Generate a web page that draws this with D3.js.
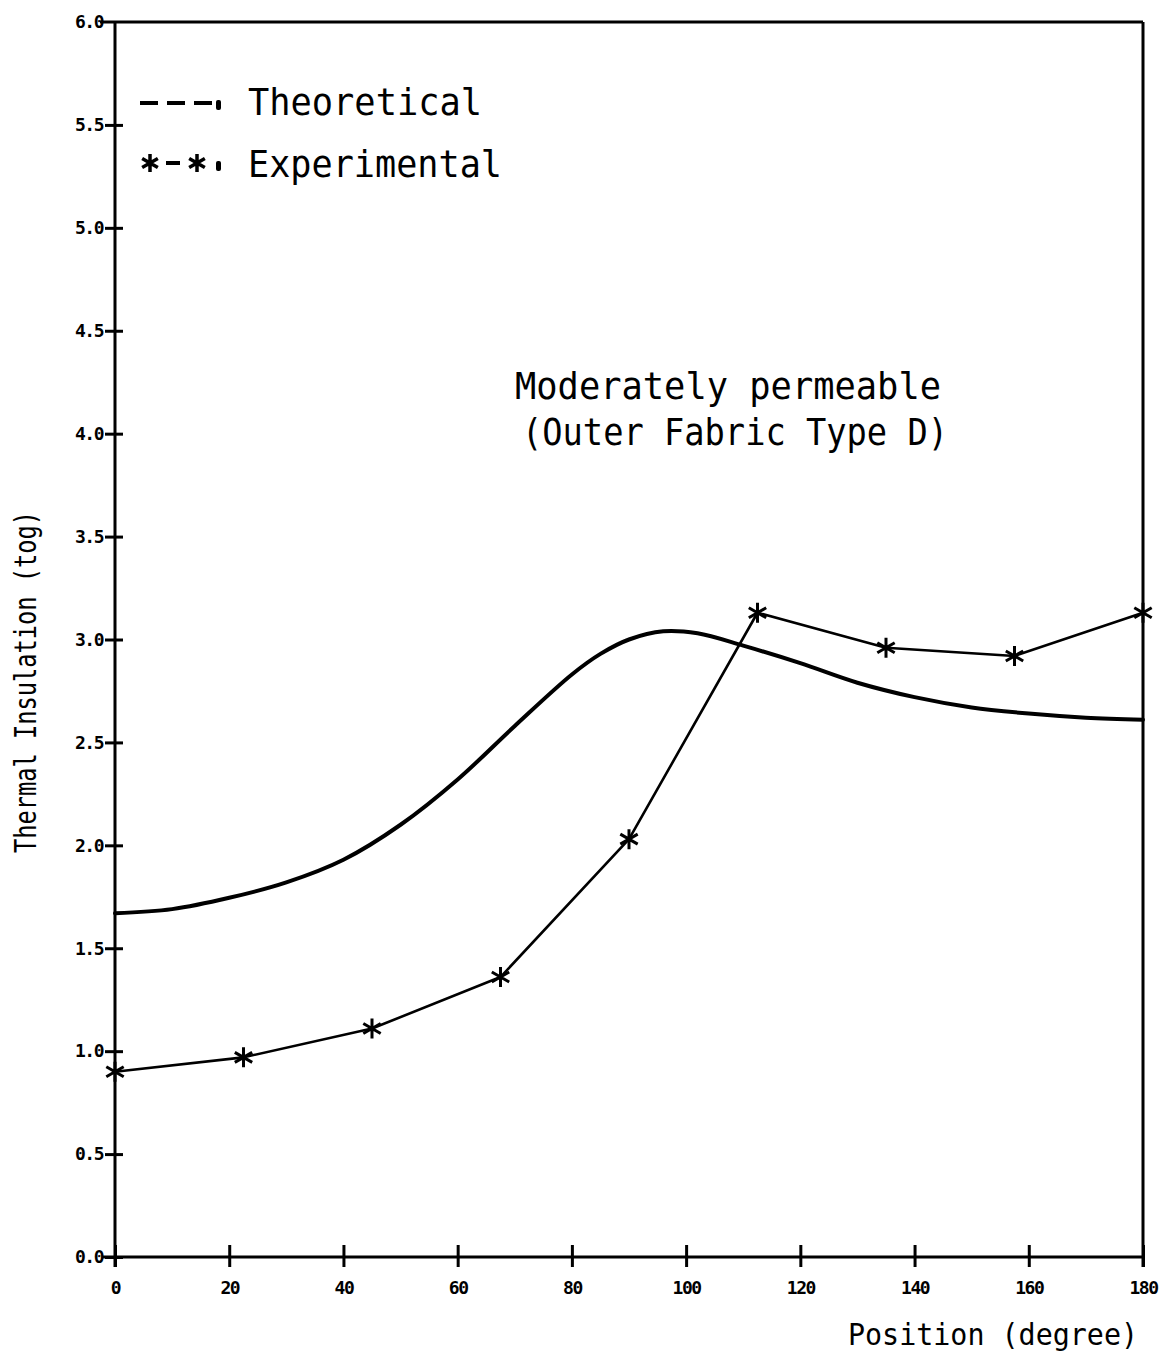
<!DOCTYPE html>
<html>
<head>
<meta charset="utf-8">
<script src="https://cdn.jsdelivr.net/npm/d3@7"></script>
<style>
  html, body { margin: 0; padding: 0; background: #fff; }
  svg { display: block; }
  text { fill: #000; }
</style>
</head>
<body>
<svg id="chart" width="1169" height="1358"></svg>
<script>
// ---------------- data ----------------
const theoPosition = [0, 10, 20, 30, 40, 50, 60, 70, 80, 85, 90, 96, 102, 110, 120, 130, 140, 150, 160, 170, 180];
const theoValue    = [1.67, 1.69, 1.745, 1.82, 1.93, 2.10, 2.32, 2.58, 2.83, 2.93, 3.00, 3.04, 3.03, 2.97, 2.885, 2.79, 2.72, 2.67, 2.64, 2.62, 2.61];

const expPosition = [0, 22.5, 45, 67.5, 90, 112.5, 135, 157.5, 180];
const expValue    = [0.90, 0.97, 1.11, 1.36, 2.03, 3.13, 2.96, 2.92, 3.13];

const xTicks = [0, 20, 40, 60, 80, 100, 120, 140, 160, 180];
const yTicks = [0, 0.5, 1, 1.5, 2, 2.5, 3, 3.5, 4, 4.5, 5, 5.5, 6];

const legendLabels = ["Theoretical", "Experimental"];
const noteLines = ["Moderately permeable", "(Outer Fabric Type D)"];
const xTitle = "Position (degree)";
const yTitle = "Thermal Insulation (tog)";

// ---------------- layout ----------------
const svg = d3.select("#chart");
const x = d3.scaleLinear().domain([0, 180]).range([115, 1143]);
const y = d3.scaleLinear().domain([0, 6]).range([1257, 22]);
const monoFont = "'DejaVu Sans Mono', 'Liberation Mono', monospace";

// frame (top and right)
svg.append("line").attr("x1", 100).attr("x2", x(180)).attr("y1", y(6)).attr("y2", y(6))
  .attr("stroke", "#000").attr("stroke-width", 3);
svg.append("line").attr("x1", x(180)).attr("x2", x(180)).attr("y1", y(6)).attr("y2", y(0) + 10)
  .attr("stroke", "#000").attr("stroke-width", 3);

// y axis
const yAxis = d3.axisLeft(y).tickValues(yTicks).tickSizeInner(10).tickSizeOuter(0)
  .tickFormat(d3.format(".1f")).tickPadding(10);
const gy = svg.append("g").attr("transform", `translate(${x(0)},0)`).call(yAxis);
gy.select(".domain").attr("stroke-width", 3).attr("d", `M0,${y(6)}V${y(0) + 10}`);
gy.selectAll(".tick line").attr("stroke-width", 3).attr("x2", 8).attr("x1", -10);
gy.selectAll(".tick").filter(d => d === 6).select("line").remove();
gy.selectAll(".tick text").attr("font-family", monoFont).attr("font-weight", "bold")
  .attr("font-size", 18).attr("x", -12).attr("letter-spacing", -1.5);

// x axis
const xAxis = d3.axisBottom(x).tickValues(xTicks).tickSizeInner(10).tickSizeOuter(0).tickPadding(14);
const gx = svg.append("g").attr("transform", `translate(0,${y(0)})`).call(xAxis);
gx.select(".domain").attr("stroke-width", 3).attr("d", `M${x(0) - 12},0H${x(180)}`);
gx.selectAll(".tick line").attr("stroke-width", 3).attr("y1", -12).attr("y2", 10);
gx.selectAll(".tick text").attr("font-family", monoFont).attr("font-weight", "bold")
  .attr("font-size", 18).attr("letter-spacing", -1.5);

// theoretical curve
const theo = theoPosition.map((p, i) => [p, theoValue[i]]);
svg.append("path").datum(theo)
  .attr("fill", "none").attr("stroke", "#000").attr("stroke-width", 4)
  .attr("stroke-linejoin", "round").attr("stroke-linecap", "round")
  .attr("d", d3.line().x(d => x(d[0])).y(d => y(d[1])).curve(d3.curveCatmullRom.alpha(0.5)));

// experimental line
const exp = expPosition.map((p, i) => [p, expValue[i]]);
svg.append("path").datum(exp)
  .attr("fill", "none").attr("stroke", "#000").attr("stroke-width", 2.6)
  .attr("stroke-linejoin", "round")
  .attr("d", d3.line().x(d => x(d[0])).y(d => y(d[1])));

function asterisk(r) {
  const a = r * 0.87, b = r * 0.5;
  return `M0,${-r}V${r}M${-a},${-b}L${a},${b}M${-a},${b}L${a},${-b}`;
}
svg.append("g").selectAll("path").data(exp).join("path")
  .attr("transform", d => `translate(${x(d[0])},${y(d[1])})`)
  .attr("d", asterisk(10))
  .attr("stroke", "#000").attr("stroke-width", 3).attr("fill", "none");

// legend
const lg = svg.append("g");
lg.append("path").attr("d", "M140,103H212").attr("stroke", "#000").attr("stroke-width", 4)
  .attr("stroke-dasharray", "18,9");
lg.append("rect").attr("x", 216).attr("y", 100).attr("width", 5).attr("height", 10).attr("rx", 2);
lg.append("path").attr("transform", "translate(150,163)").attr("d", asterisk(9))
  .attr("stroke", "#000").attr("stroke-width", 3.5);
lg.append("path").attr("d", "M166,163H180").attr("stroke", "#000").attr("stroke-width", 4);
lg.append("path").attr("transform", "translate(197,163)").attr("d", asterisk(9))
  .attr("stroke", "#000").attr("stroke-width", 3.5);
lg.append("rect").attr("x", 216).attr("y", 161).attr("width", 5).attr("height", 10).attr("rx", 2);

const legendY = [115, 177];
const legendW = [234, 254];
lg.selectAll("text.leg").data(legendLabels).join("text").attr("class", "leg")
  .attr("x", 248).attr("y", (d, i) => legendY[i])
  .attr("font-family", monoFont).attr("font-size", 38)
  .attr("textLength", (d, i) => legendW[i]).attr("lengthAdjust", "spacingAndGlyphs")
  .text(d => d);

// annotation
const noteX = [515, 522];
const noteY = [399, 445];
const noteW = [426, 426];
svg.selectAll("text.note").data(noteLines).join("text").attr("class", "note")
  .attr("x", (d, i) => noteX[i]).attr("y", (d, i) => noteY[i])
  .attr("font-family", monoFont).attr("font-size", 38)
  .attr("textLength", (d, i) => noteW[i]).attr("lengthAdjust", "spacingAndGlyphs")
  .text(d => d);

// axis titles
svg.append("text").attr("x", 848).attr("y", 1345)
  .attr("font-family", monoFont).attr("font-size", 31)
  .attr("textLength", 290).attr("lengthAdjust", "spacingAndGlyphs")
  .text(xTitle);
svg.append("text").attr("transform", "translate(36,853) rotate(-90)")
  .attr("font-family", monoFont).attr("font-size", 31)
  .attr("textLength", 342).attr("lengthAdjust", "spacingAndGlyphs")
  .text(yTitle);
</script>
</body>
</html>
